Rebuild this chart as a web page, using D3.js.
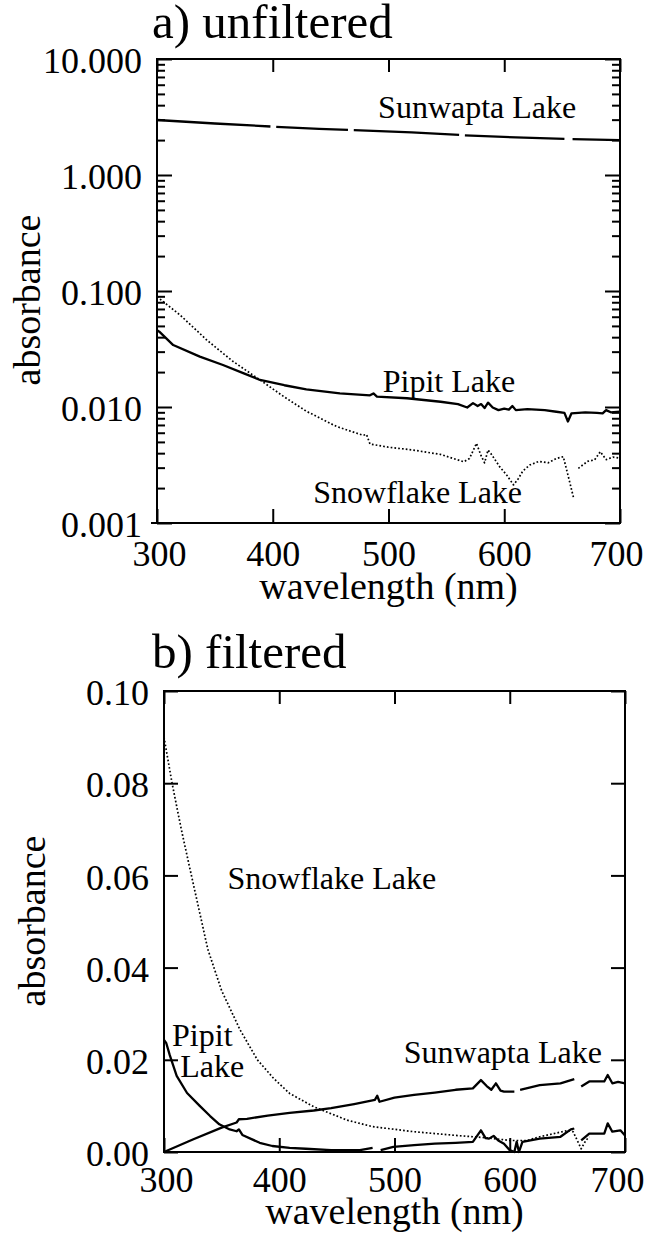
<!DOCTYPE html>
<html>
<head>
<meta charset="utf-8">
<script src="https://cdn.jsdelivr.net/npm/d3@7"></script>
<style>
  body { margin: 0; background: #fff; }
  svg text { font-family: "Liberation Serif", "Times New Roman", serif; fill: #000; }
</style>
</head>
<body>
<svg id="chart" width="650" height="1234"></svg>
<script>
// Absorbance spectra of three lakes: a) unfiltered (log axis), b) filtered (linear axis).
// Each series is [wavelength nm, absorbance]; null breaks the trace (gaps in the record).

var wlTicks = [300, 400, 500, 600, 700]
var logTicks = [10, 1, 0.1, 0.01, 0.001]
var logTickLabels = ['10.000', '1.000', '0.100', '0.010', '0.001']
var linTicks = [0, 0.02, 0.04, 0.06, 0.08, 0.10]
var linTickLabels = ['0.00', '0.02', '0.04', '0.06', '0.08', '0.10']

// ---- panel a: unfiltered ----
var sunwaptaA = [[300, 2.98], [350, 2.78], [398, 2.62], [400, null], [403, 2.6], [440, 2.5],
  [465, 2.45], [467, null], [470, 2.44], [520, 2.33], [561, 2.22], [563, null], [566, 2.2],
  [610, 2.11], [652, 2.05], [655, null], [659, 2.04], [700, 2.0]]

var pipitA = [[300, 0.046], [302, 0.0446], [314, 0.0342], [337, 0.0272], [357, 0.023], [375, 0.0195],
  [389, 0.0171], [410, 0.0154], [429, 0.0142], [458, 0.0131], [484, 0.0126], [487, 0.0131],
  [490, 0.0123], [516, 0.0119], [545, 0.0111], [560, 0.0106], [568, 0.0099], [573, 0.0108],
  [577, 0.0102], [580, 0.0106], [583, 0.0098], [586, 0.0109], [590, 0.0099], [595, 0.0094],
  [600, 0.0097], [604, 0.0095], [607, 0.0102], [610, 0.0094], [620, 0.0096], [635, 0.0094],
  [645, 0.0091], [652, 0.0089], [655, 0.0075], [658, 0.0088], [670, 0.009], [680, 0.0089],
  [685, 0.0088], [688, 0.0094], [692, 0.009], [700, 0.0091]]

var snowflakeA = [[300, 0.0893], [320, 0.062], [343, 0.0378], [365, 0.025], [389, 0.0171],
  [410, 0.0122], [429, 0.0092], [455, 0.0068], [478, 0.0057], [481, 0.0058], [484, 0.0048],
  [500, 0.0045], [521, 0.00426], [545, 0.0039], [565, 0.00337], [570, 0.0036], [576, 0.00486],
  [580, 0.0038], [583, 0.0033], [586, 0.00426], [589, 0.0039], [596, 0.00306], [602, 0.0026],
  [608, 0.00213], [612, 0.0024], [616, 0.0028], [622, 0.00316], [630, 0.0034], [638, 0.0033],
  [645, 0.0036], [651, 0.00373], [655, 0.0026], [660, 0.00163], [662, null], [664, 0.00296],
  [672, 0.0034], [678, 0.0035], [683, 0.00412], [688, 0.00352], [694, 0.0037], [700, 0.00362]]

// ---- panel b: filtered ----
var sunwaptaB = [[300, 0], [325, 0.0027], [350, 0.0053], [363, 0.0064], [365, 0.0071], [372, 0.0072],
  [390, 0.0079], [409, 0.0085], [430, 0.009], [445, 0.0095], [465, 0.0104], [483, 0.0113],
  [485, 0.0122], [487, 0.0109], [500, 0.0118], [517, 0.0124], [535, 0.0129], [553, 0.0135],
  [568, 0.0138], [575, 0.0156], [580, 0.0143], [584, 0.0135], [588, 0.0149], [592, 0.0133],
  [595, 0.0131], [604, 0.0131], [606, null], [609, 0.0135], [626, 0.0145], [644, 0.0149],
  [656, 0.0158], [659, null], [662, 0.0142], [669, 0.0153], [682, 0.0153], [685, 0.0167],
  [689, 0.0149], [694, 0.0152], [700, 0.0149]]

var pipitB = [[300, 0.0243], [302, 0.0236], [305, 0.021], [311, 0.0165], [320, 0.0128], [331, 0.0100],
  [340, 0.0078], [348, 0.0060], [357, 0.0049], [363, 0.0045], [365, 0.0049], [368, 0.0037],
  [383, 0.0020], [394, 0.0013], [409, 0.0009], [423, 0.0007], [445, 0.0004], [470, 0.0004],
  [481, 0.0009], [484, null], [488, 0.0004], [499, 0.0011], [517, 0.0015], [535, 0.0018],
  [553, 0.002], [568, 0.0022], [575, 0.0047], [579, 0.003], [582, 0.0029], [586, 0.0035],
  [590, 0.0025], [595, 0.0018], [600, 0.0004], [604, 0], [606, 0.0022], [608, 0], [611, 0.0022],
  [626, 0.0029], [644, 0.0033], [653, 0.0049], [656, 0.0051], [659, null], [662, 0.0025],
  [669, 0.004], [682, 0.004], [685, 0.0062], [689, 0.0044], [696, 0.0047], [700, 0.0036]]

var snowflakeB = [[300, 0.090], [307, 0.080], [315, 0.070], [322, 0.062], [330, 0.053], [338, 0.044],
  [350, 0.035], [366, 0.0265], [381, 0.020], [395, 0.016], [409, 0.0127], [430, 0.0098],
  [459, 0.0069], [481, 0.0055], [517, 0.0044], [553, 0.0036], [579, 0.0031], [600, 0.0025],
  [615, 0.0025], [626, 0.0033], [651, 0.0047], [655, 0.0044], [662, 0.0007], [666, 0.0025],
  [669, 0.0033]]

var svg = d3.select('#chart')
var font = '"Liberation Serif", "Times New Roman", serif'

function panel(opt){
  var g = svg.append('g')
  var x = d3.scaleLinear().domain([300, 700]).range([opt.left, opt.right])
  var y = opt.y

  // ticks: all inward, labels only left/bottom
  function styleAxis(sel){
    sel.select('.domain').remove()
    sel.selectAll('.tick line').attr('stroke', '#000').attr('stroke-width', 2)
    sel.selectAll('text').attr('font-family', font).attr('font-size', 36).attr('fill', '#000')
  }
  g.append('g').attr('transform', 'translate(' + opt.left + ',0)')
    .call(d3.axisLeft(y).tickValues(opt.yTicks).tickSize(-opt.majorLen).tickPadding(15)
      .tickFormat(function(d, i){ return opt.yLabels[i] }))
    .call(styleAxis)
    .selectAll('text').attr('dy', '0.38em')
  g.append('g').attr('transform', 'translate(' + opt.right + ',0)')
    .call(d3.axisRight(y).tickValues(opt.yTicks).tickSize(-opt.majorLen).tickFormat(''))
    .call(styleAxis)
  if (opt.minor){
    g.append('g').attr('transform', 'translate(' + opt.left + ',0)')
      .call(d3.axisLeft(y).tickValues(opt.minor).tickSize(-8).tickFormat('')).call(styleAxis)
    g.append('g').attr('transform', 'translate(' + opt.right + ',0)')
      .call(d3.axisRight(y).tickValues(opt.minor).tickSize(-8).tickFormat('')).call(styleAxis)
  }
  g.append('g').attr('transform', 'translate(0,' + opt.bottom + ')')
    .call(d3.axisBottom(x).tickValues(wlTicks).tickSize(-14).tickPadding(opt.xPad).tickFormat(d3.format('d')))
    .call(styleAxis)
    .selectAll('text').attr('dx', function(d){ return d == 700 ? opt.lastDx : d == 300 ? 2 : 0 })
  g.append('g').attr('transform', 'translate(0,' + opt.top + ')')
    .call(d3.axisTop(x).tickValues(wlTicks).tickSize(-13).tickFormat(''))
    .call(styleAxis)

  // frame
  g.append('rect')
    .attr('x', opt.left).attr('y', opt.top)
    .attr('width', opt.right - opt.left).attr('height', opt.bottom - opt.top)
    .attr('fill', 'none').attr('stroke', '#000').attr('stroke-width', 2)

  var line = d3.line()
    .defined(function(d){ return d[1] != null })
    .x(function(d){ return x(d[0]) })
    .y(function(d){ return y(d[1]) })

  opt.series.forEach(function(s){
    g.append('path')
      .attr('d', line(s.data))
      .attr('fill', 'none').attr('stroke', '#000')
      .attr('stroke-width', s.dotted ? 1.7 : 2.3)
      .attr('stroke-dasharray', s.dotted ? '1.7,2.1' : null)
      .attr('stroke-linejoin', 'round')
  })

  opt.labels.forEach(function(l){
    g.append('text').text(l.text)
      .attr('x', x(l.wl)).attr('y', y(l.v))
      .attr('font-size', 32)
  })

  // panel title, axis titles
  g.append('text').text(opt.title)
    .attr('x', 152).attr('y', opt.titleY).attr('font-size', 49)
  g.append('text').text('wavelength (nm)')
    .attr('x', (opt.left + opt.right) / 2).attr('y', opt.bottom + opt.xTitleOff)
    .attr('text-anchor', 'middle').attr('font-size', 38)
  g.append('text').text('absorbance')
    .attr('transform', 'translate(' + opt.yTitleX + ',' + opt.yTitleY + ') rotate(-90)')
    .attr('text-anchor', 'middle').attr('font-size', 38)
  return g
}

// minor log ticks 2..9 in each decade
var minorLog = []
;[0.001, 0.01, 0.1, 1].forEach(function(dec){
  d3.range(2, 10).forEach(function(k){ minorLog.push(dec * k) })
})

var yA = d3.scaleLog().domain([0.001, 10]).range([523, 59])
var gA = panel({
  left: 157, right: 620, top: 59, bottom: 523, y: yA,
  yTicks: logTicks, yLabels: logTickLabels, majorLen: 15, minor: minorLog,
  xPad: 17, lastDx: -4, xTitleOff: 76,
  title: 'a) unfiltered', titleY: 38, yTitleX: 40, yTitleY: 300,
  series: [{data: sunwaptaA}, {data: pipitA}, {data: snowflakeA, dotted: true}],
  labels: [
    {text: 'Sunwapta Lake', wl: 491, v: 3.1},
    {text: 'Pipit Lake', wl: 495, v: 0.0135},
    {text: 'Snowflake Lake', wl: 435, v: 0.00149}
  ]
})
// bottom axis line runs a little past the frame at 0.001
gA.append('line').attr('x1', 151).attr('x2', 157).attr('y1', yA(0.001)).attr('y2', yA(0.001))
  .attr('stroke', '#000').attr('stroke-width', 2)

var yB = d3.scaleLinear().domain([0, 0.10]).range([1152, 691])
panel({
  left: 164, right: 625, top: 691, bottom: 1152, y: yB,
  yTicks: linTicks, yLabels: linTickLabels, majorLen: 14,
  xPad: 14, lastDx: -8, xTitleOff: 72,
  title: 'b) filtered', titleY: 668, yTitleX: 45, yTitleY: 921,
  series: [{data: sunwaptaB}, {data: pipitB}, {data: snowflakeB, dotted: true}],
  labels: [
    {text: 'Snowflake Lake', wl: 355, v: 0.057},
    {text: 'Pipit', wl: 307, v: 0.0230},
    {text: 'Lake', wl: 314, v: 0.0163},
    {text: 'Sunwapta Lake', wl: 508, v: 0.0193}
  ]
})
</script>
</body>
</html>
